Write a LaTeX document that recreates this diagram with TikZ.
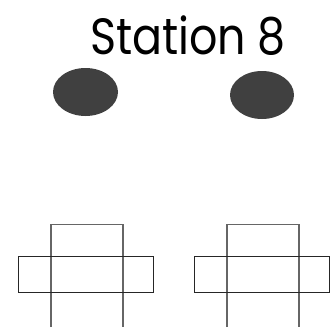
\documentclass[tikz,border=0pt]{standalone}
\usepackage{fontspec}
\setmainfont{Poppins}[FakeStretch=0.87]
\usetikzlibrary{shapes.geometric}
\definecolor{blobgray}{HTML}{404040}
\definecolor{linegray}{HTML}{666666}
\tikzset{
  blob/.style={ellipse, fill=blobgray, draw=none, minimum width=65pt, minimum height=48pt, inner sep=0pt},
  hbar/.style={draw=black!85, line width=0.8pt},
  vbar/.style={draw=linegray, line width=1.2pt},
}
\begin{document}
\begin{tikzpicture}[x=1pt,y=-1pt]
\useasboundingbox (0,0) rectangle (335,327);
\node[anchor=base, font=\fontsize{51}{51}\selectfont, inner sep=0pt] (title) at (188,54) {Station 8};
\node[blob] (e1) at (85.5,92) {};
\node[blob, minimum width=64pt] (e2) at (262,95) {};
% left cross
\draw[vbar] (51,327) -- (51,224.3) -- (123,224.3) -- (123,327);
\draw[hbar] (18,256.7) rectangle (153,292.3);
% right cross
\draw[vbar] (227,327) -- (227,224.3) -- (299,224.3) -- (299,327);
\draw[hbar] (194,256.7) rectangle (329,292.3);
\end{tikzpicture}
\end{document}
